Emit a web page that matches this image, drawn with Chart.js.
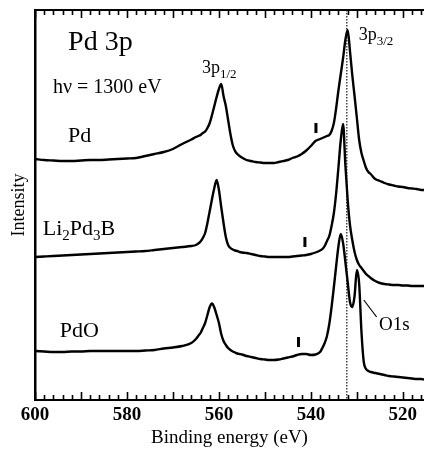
<!DOCTYPE html>
<html>
<head>
<meta charset="utf-8">
<script src="https://cdn.jsdelivr.net/npm/chart.js@4.4.1/dist/chart.umd.min.js"></script>
<style>
  html, body { margin: 0; padding: 0; background: #fff; }
</style>
</head>
<body>
<canvas id="chart" width="424" height="450"></canvas>
<script>
// binding energy grid (eV), denser around the peaks
const energy = [
  600, 598, 596, 594, 592, 590, 588, 586, 584, 582, 580, 578, 576, 574, 572, 570, 568, 566,
  565, 564.5, 564, 563.5, 563, 562.5, 562, 561.5, 561, 560.5, 560, 559.5, 559, 558.5, 558, 557.5, 557, 556.5, 556, 555.5, 555,
  554, 553, 552, 551, 550, 549, 548, 547, 546, 545, 544, 543, 542, 541, 540, 539, 538,
  537.5, 537, 536.5, 536, 535.5, 535, 534.5, 534, 533.5, 533, 532.5, 532, 531.5, 531, 530.5, 530, 529.5, 529, 528.5, 528, 527.5, 527,
  526, 525, 524, 523, 522, 521, 520, 519, 518, 517, 516, 515.4
];

// intensities (arb. units, curves already offset as in the figure)
const pdCounts = [
  241, 240, 239.5, 239, 239, 239.5, 240, 240, 240.5, 241, 241.5, 242, 244, 246, 248, 251, 256, 260.5,
  263, 264, 265, 267, 268.5, 272, 277, 285, 294, 303, 311, 316, 304, 294, 280, 266, 255, 249, 246, 244, 242.5,
  240, 239, 238, 237.5, 237, 237, 237, 238, 239, 240, 242, 243.5, 246, 249.5, 254, 259, 261,
  262, 263, 264, 265, 269, 277, 292, 310, 326, 342, 360, 370, 349, 325, 304, 282, 260, 247, 239, 232, 228, 226,
  221, 219, 217, 215.5, 214.5, 213.5, 213, 212, 211.5, 211, 210, 210
];
const li2pd3bCounts = [
  143, 143.5, 144, 144.5, 145, 145.5, 146, 146.5, 147, 147.5, 148, 148.5, 149, 150, 151, 152, 153, 154,
  155, 156.5, 158.5, 162, 167, 177, 189, 201, 212, 220, 210, 193, 177, 163, 155, 152, 150.5, 149.5, 149, 148, 147.5,
  147, 146, 145, 144, 143.5, 143, 143, 143, 143, 143, 143.5, 144, 144.5, 145, 146, 147.5, 149.5,
  151, 154, 159, 164, 174, 187, 207, 233, 260, 276, 235, 200, 175, 160, 148, 140, 135, 132, 129, 126, 124, 122,
  119, 117, 116, 115.5, 115, 115, 114.5, 114.5, 114, 114, 114, 114
];
const pdoCounts = [
  49, 48.5, 48, 48, 48.5, 48.5, 49, 49, 49, 49, 49, 49, 49.5, 50, 51.5, 52.5, 54, 57,
  61, 64, 67, 72, 77, 85, 93, 96.5, 92.5, 85, 77, 66, 59, 55, 52, 50, 48.5, 47.5, 46.5, 46, 45.5,
  44, 43, 42, 41, 40.5, 40, 40, 40.5, 41.5, 42.5, 43.5, 45, 46, 46, 45, 45.5, 48,
  52, 57, 64, 76, 93, 113, 134, 154, 166, 157, 138, 118, 98, 93, 104, 130, 116, 68, 38, 31, 29, 28,
  27, 26, 25, 24, 23.5, 23, 22.5, 22, 21.5, 21, 21, 20.5
];

const tickLabels = [600, 580, 560, 540, 520];
const refLine = 532.2;               // dotted line through the metal 3p3/2 peak
// small satellite bars: energy and intensity span, one per curve
const satEnergy = [538.9, 541.3, 542.7];
const satLow = [267, 153, 53];
const satHigh = [277, 163, 63];

const FONT = '"Liberation Serif", "Times New Roman", serif';

function toPoints(vals) {
  return energy.map((e, i) => ({ x: e, y: vals[i] }));
}

function line(label, vals) {
  return {
    label: label,
    data: toPoints(vals),
    borderColor: '#000',
    borderWidth: 2.4,
    pointRadius: 0,
    fill: false,
    cubicInterpolationMode: 'monotone'
  };
}

const decorations = {
  id: 'decorations',
  beforeDatasetsDraw(chart) {
    const { ctx, chartArea: a, scales: { x } } = chart;
    const p = x.getPixelForValue(refLine);
    ctx.save();
    ctx.strokeStyle = '#444';
    ctx.lineWidth = 1.5;
    ctx.setLineDash([1.5, 1.5]);
    ctx.beginPath();
    ctx.moveTo(p, a.top);
    ctx.lineTo(p, a.bottom);
    ctx.stroke();
    ctx.restore();
  },
  afterDraw(chart) {
    const { ctx, chartArea: a, scales: { x, y } } = chart;
    ctx.save();
    ctx.strokeStyle = '#000';
    ctx.fillStyle = '#000';

    // top frame
    ctx.lineWidth = 2;
    ctx.beginPath();
    ctx.moveTo(a.left, a.top);
    ctx.lineTo(a.right, a.top);
    ctx.stroke();

    // inward ticks, every 2 eV, long every 10 eV
    ctx.lineWidth = 1.6;
    for (let e = 516; e <= 600; e += 2) {
      const p = Math.round(x.getPixelForValue(e)) + 0.5;
      const len = e % 10 === 0 ? 8 : 5;
      ctx.beginPath();
      ctx.moveTo(p, a.bottom);
      ctx.lineTo(p, a.bottom - len);
      ctx.moveTo(p, a.top);
      ctx.lineTo(p, a.top + len);
      ctx.stroke();
    }

    // satellite markers
    ctx.lineWidth = 3;
    satEnergy.forEach((e, i) => {
      const p = x.getPixelForValue(e);
      ctx.beginPath();
      ctx.moveTo(p, y.getPixelForValue(satLow[i]));
      ctx.lineTo(p, y.getPixelForValue(satHigh[i]));
      ctx.stroke();
    });

    // O1s leader line
    ctx.lineWidth = 1.2;
    ctx.beginPath();
    ctx.moveTo(x.getPixelForValue(528.5), y.getPixelForValue(100));
    ctx.lineTo(x.getPixelForValue(525.7), y.getPixelForValue(83));
    ctx.stroke();

    ctx.textBaseline = 'alphabetic';
    ctx.textAlign = 'left';

    // draws a sequence of [text, size, drop] pieces from one start point
    function write(parts, e, i) {
      let px = x.getPixelForValue(e);
      const py = y.getPixelForValue(i);
      parts.forEach(([s, size, drop]) => {
        ctx.font = size + 'px ' + FONT;
        ctx.fillText(s, px, py + (drop || 0));
        px += ctx.measureText(s).width;
      });
    }

    write([['Pd 3p', 28]], 592.8, 350);
    write([['h\u03bd = 1300 eV', 20]], 596.1, 307);
    write([['Pd', 22]], 592.8, 258);
    write([['Li', 22], ['2', 15, 5], ['Pd', 22], ['3', 15, 5], ['B', 22]], 598.3, 165);
    write([['PdO', 22]], 594.6, 63);
    write([['3p', 18], ['1/2', 13, 5]], 563.7, 327);
    write([['3p', 18], ['3/2', 13, 5]], 529.6, 360);
    write([['O1s', 19]], 525.2, 70);

    ctx.restore();
  }
};

new Chart(document.getElementById('chart'), {
  type: 'line',
  data: {
    datasets: [
      line('Pd', pdCounts),
      line('Li2Pd3B', li2pd3bCounts),
      line('PdO', pdoCounts)
    ]
  },
  options: {
    responsive: false,
    animation: false,
    devicePixelRatio: 1,
    layout: { padding: { top: 10, right: 0, left: 0, bottom: 0 } },
    plugins: {
      legend: { display: false },
      tooltip: { enabled: false }
    },
    scales: {
      x: {
        type: 'linear',
        reverse: true,
        min: 515.4,
        max: 600,
        grid: { display: false, drawTicks: false },
        border: { display: true, color: '#000', width: 2 },
        afterBuildTicks: s => { s.ticks = tickLabels.map(v => ({ value: v })); },
        ticks: {
          color: '#000',
          padding: 4,
          maxRotation: 0,
          autoSkip: false,
          font: { family: FONT, size: 19, weight: 'bold' }
        },
        title: {
          display: true,
          text: 'Binding energy (eV)',
          color: '#000',
          font: { family: FONT, size: 19 },
          padding: { top: 0, bottom: 1 }
        },
        afterFit: s => { s.height = 50; }
      },
      y: {
        min: 0,
        max: 390,
        grid: { display: false, drawTicks: false },
        border: { display: true, color: '#000', width: 2.5 },
        ticks: { display: false },
        title: {
          display: true,
          text: 'Intensity',
          color: '#000',
          font: { family: FONT, size: 18 },
          padding: { top: 8, bottom: 0 }
        },
        afterFit: s => { s.width = 35; }
      }
    }
  },
  plugins: [decorations]
});
</script>
</body>
</html>
